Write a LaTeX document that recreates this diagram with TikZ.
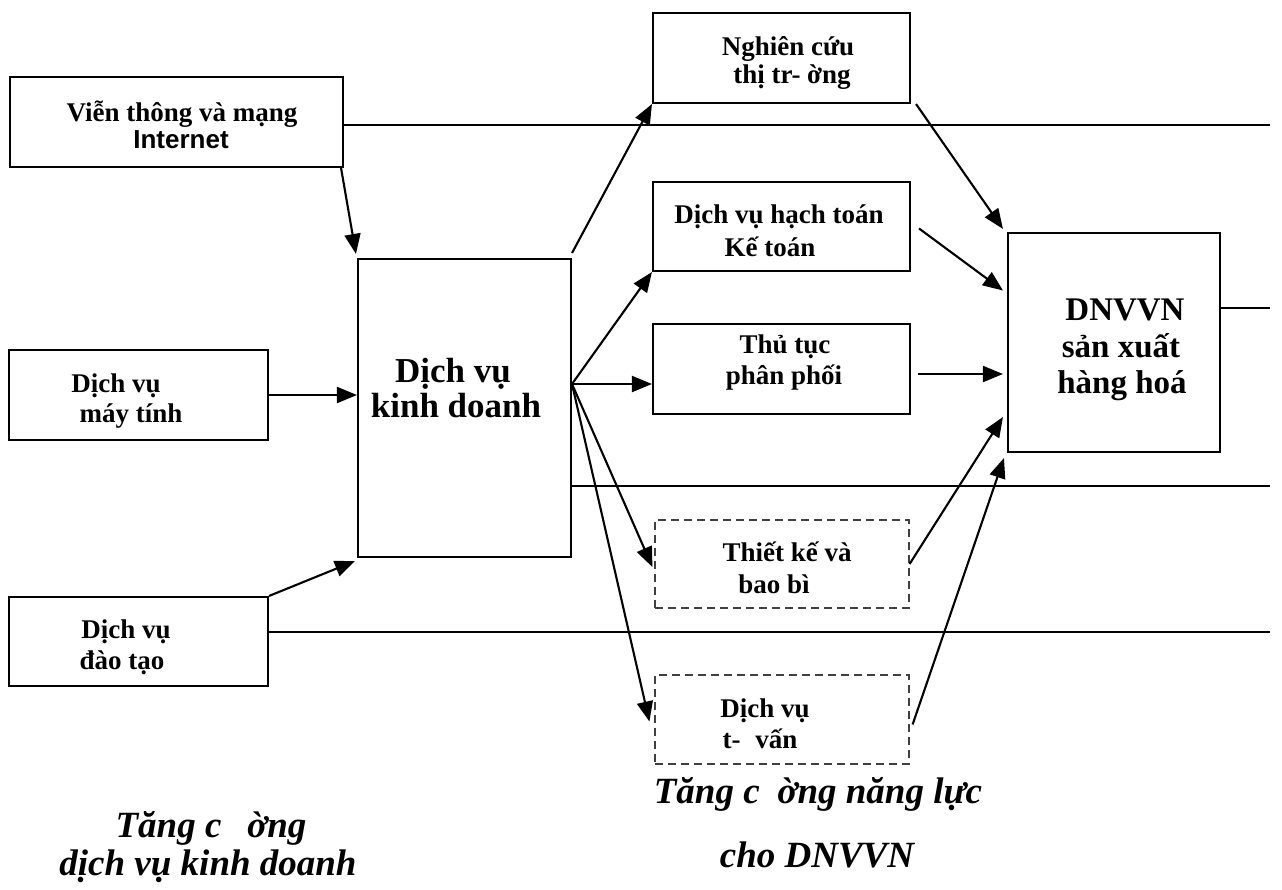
\documentclass[tikz,border=0pt]{standalone}
\usepackage{fontspec}
\setmainfont{Liberation Serif}
\newfontfamily\arialf{Liberation Sans}
\usetikzlibrary{arrows.meta,calc}
\begin{document}
\begin{tikzpicture}[x=1pt,y=-1pt,
  box/.style={draw,line width=2.1pt,inner sep=0pt},
  dbox/.style={draw=black!75,line width=1.2pt,dash pattern=on 8pt off 5pt,inner sep=0pt},
  arr/.style={line width=2.1pt,-{Triangle[length=20pt,width=16pt]}},
  ln/.style={line width=2.1pt},
  tx/.style={anchor=base,inner sep=0pt,font=\bfseries\fontsize{27}{30}\selectfont},
  tkd/.style={anchor=base,inner sep=0pt,font=\bfseries\fontsize{35}{38}\selectfont},
  tdn/.style={anchor=base,inner sep=0pt,font=\bfseries\fontsize{33}{36}\selectfont},
  tit/.style={anchor=base,inner sep=0pt,font=\bfseries\itshape\fontsize{37}{40}\selectfont}]
\useasboundingbox (0,0) rectangle (1282,889);

% boxes
\node[box,minimum width=333pt,minimum height=90pt] (vt) at (176.5,122) {};
\node[box,minimum width=259pt,minimum height=90pt] (mt) at (138.5,395) {};
\node[box,minimum width=259pt,minimum height=89pt] (dt) at (138.5,641.5) {};
\node[box,minimum width=213pt,minimum height=298pt] (kd) at (464.5,408) {};
\node[box,minimum width=257pt,minimum height=90pt] (nc) at (781.5,58) {};
\node[box,minimum width=257pt,minimum height=89pt] (ht) at (781.5,226.5) {};
\node[box,minimum width=257pt,minimum height=90pt] (tt) at (781.5,369) {};
\node[dbox,minimum width=254pt,minimum height=88pt] (tk) at (782,564) {};
\node[dbox,minimum width=254pt,minimum height=89pt] (tv) at (782,719.5) {};
\node[box,minimum width=212pt,minimum height=219pt] (dn) at (1114,342.5) {};

% texts
\node[tx] (vt1) at (182,121) {Viễn thông và mạng};
\node[tx,font=\arialf\bfseries\fontsize{26}{30}\selectfont] (vt2) at (181,148) {Internet};
\node[tx] (mt1) at (116,392) {Dịch vụ};
\node[tx] (mt2) at (131,422) {máy tính};
\node[tx] (dt1) at (126,638) {Dịch vụ};
\node[tx] (dt2) at (122,669) {đào tạo};
\node[tkd] (kd1) at (453,382) {Dịch vụ};
\node[tkd] (kd2) at (456,417) {kinh doanh};
\node[tx] (nc1) at (788,55) {Nghiên cứu};
\node[tx] (nc2) at (792,83) {thị tr- ờng};
\node[tx] (ht1) at (779,223) {Dịch vụ hạch toán};
\node[tx] (ht2) at (770,256) {Kế toán};
\node[tx] (tt1) at (785,353) {Thủ tục};
\node[tx] (tt2) at (784,384) {phân phối};
\node[tx] (tk1) at (787,561) {Thiết kế và};
\node[tx] (tk2) at (774,593) {bao bì};
\node[tx] (tv1) at (765,717) {Dịch vụ};
\node[tx] (tv2) at (760,748) {t-\hspace{8pt} vấn};
\node[tdn] (dn1) at (1125,320) {DNVVN};
\node[tdn] (dn2) at (1121,357) {sản xuất};
\node[tdn] (dn3) at (1122,393) {hàng hoá};
\node[tit] (bl1) at (211,837) {Tăng c\hspace{26pt}ờng};
\node[tit] (bl2) at (208,875) {dịch vụ kinh doanh};
\node[tit] (bm1) at (818,803) {Tăng c\hspace{18pt}ờng năng lực};
\node[tit] (bm2) at (817,867) {cho DNVVN};

% long lines
\coordinate (e1) at (1270,125);
\coordinate (e2) at (1270,308);
\coordinate (e3) at (1270,486);
\coordinate (e4) at (1270,632);
\draw[ln] (vt.east |- e1) -- (e1);
\draw[ln] (dn.east |- e2) -- (e2);
\draw[ln] (kd.east |- e3) -- (e3);
\draw[ln] (dt.east |- e4) -- (e4);

% arrows into business services
\draw[arr] ($(vt.south east)+(-3,0)$) -- ($(kd.north west)+(-1,-4)$);
\draw[arr] (mt.east) -- (mt.east -| kd.west);
\draw[arr] (dt.north east) -- ($(kd.south west)+(-2,3)$);

% fan out
\coordinate (f) at (572,384);
\draw[arr] ($(kd.north east)+(0,-5)$) -- (nc.south west);
\draw[arr] (f) -- (ht.south west);
\draw[arr] (f) -- (f -| tt.west);
\draw[arr] (f) -- ($(tk.west)+(-2,3)$);
\draw[arr] (f) -- ($(tv.west)+(-5,2)$);

% into DNVVN
\draw[arr] ($(nc.south east)+(5,0)$) -- ($(dn.north west)+(-4,-3)$);
\draw[arr] ($(ht.east)+(8,2)$) -- ($(dn.west)+(-4,-52)$);
\draw[arr] ($(tt.east)+(7,5)$) -- ($(dn.west)+(-4,31.5)$);
\draw[arr] (tk.east) -- ($(dn.west)+(-4,74.5)$);
\draw[arr] ($(tv.east)+(3,5)$) -- ($(dn.south west)+(-3,5)$);
\end{tikzpicture}
\end{document}
